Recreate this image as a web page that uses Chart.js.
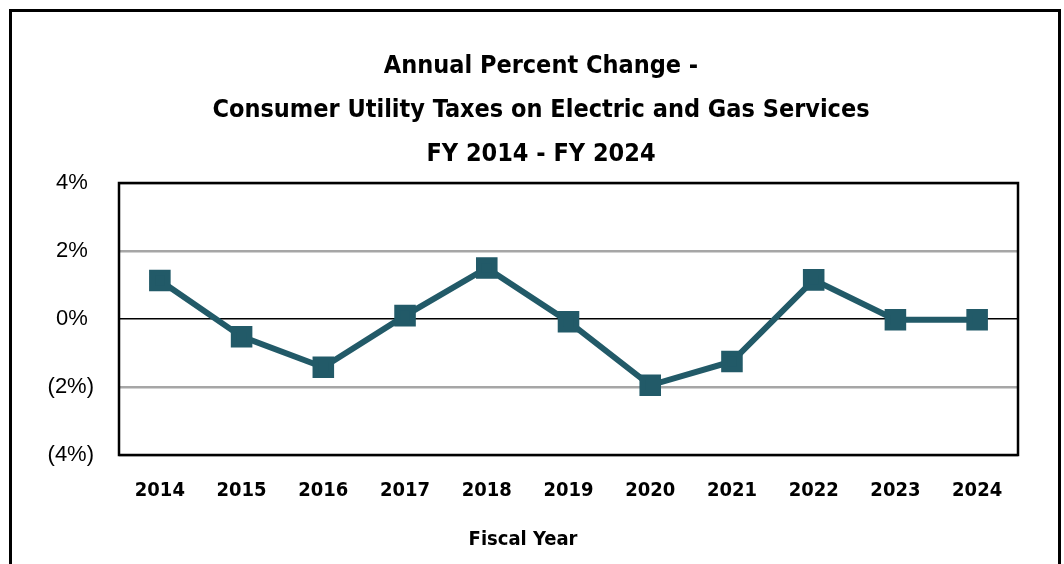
<!DOCTYPE html>
<html>
<head>
<meta charset="utf-8">
<script src="https://cdn.jsdelivr.net/npm/chart.js@4.4.1/dist/chart.umd.min.js"></script>
<style>
  html, body { margin: 0; padding: 0; background: #fff; }
  #wrap { width: 1064px; height: 564px; }
</style>
</head>
<body>
<div id="wrap"><canvas id="chart" width="1064" height="564"></canvas></div>
<script>
const years = ["2014", "2015", "2016", "2017", "2018", "2019", "2020", "2021", "2022", "2023", "2024"]
const pctChange = [1.13, -0.52, -1.42, 0.10, 1.50, -0.08, -1.95, -1.25, 1.15, -0.02, -0.02]
const titleLines = ["Annual Percent Change -", "Consumer Utility Taxes on Electric and Gas Services", "FY 2014 - FY 2024"]
const xTitle = "Fiscal Year"

const lineColor = "#225a68"
const narrow = "'DejaVu Sans Condensed', 'Liberation Sans', sans-serif"

// outer frame, title block, plot box and the x axis caption
// (title and caption sit a bit left of the plot centre in the original)
const frames = {
  id: "frames",
  beforeDraw(chart) {
    const c = chart.ctx
    c.save()
    c.strokeStyle = "#000"
    c.lineWidth = 3
    c.strokeRect(10.5, 10.5, 1049, 600)
    c.fillStyle = "#000"
    c.font = "bold 25px " + narrow
    c.textAlign = "center"
    c.textBaseline = "middle"
    titleLines.forEach((t, i) => c.fillText(t, 541, 66 + i * 44))
    c.restore()
  },
  afterDatasetsDraw(chart) {
    const a = chart.chartArea
    const c = chart.ctx
    c.save()
    c.strokeStyle = "#000"
    c.lineWidth = 2.5
    c.strokeRect(a.left, a.top, a.right - a.left, a.bottom - a.top)
    c.fillStyle = "#000"
    c.font = "bold 20px " + narrow
    c.textAlign = "center"
    c.textBaseline = "middle"
    c.fillText(xTitle, 523, a.bottom + 85)
    c.restore()
  }
}

new Chart(document.getElementById("chart"), {
  type: "line",
  data: {
    labels: years,
    datasets: [{
      data: pctChange,
      borderColor: lineColor,
      backgroundColor: lineColor,
      borderWidth: 6,
      pointStyle: "rect",
      pointRadius: 11,
      pointHoverRadius: 11,
      tension: 0
    }]
  },
  options: {
    responsive: false,
    animation: false,
    layout: { padding: { top: 183, right: 46, bottom: 37, left: 0 } },
    plugins: {
      legend: { display: false },
      tooltip: { enabled: false },
      title: { display: false }
    },
    scales: {
      x: {
        offset: true,
        grid: { display: false, drawTicks: false },
        border: { display: false },
        ticks: {
          color: "#000",
          padding: 24,
          font: { family: narrow, size: 20, weight: "bold" }
        }
      },
      y: {
        min: -4,
        max: 4,
        afterFit(s) { s.width = 119 },
        grid: {
          drawTicks: false,
          color: ctx => ctx.tick.value === 0 ? "#000" : "#a6a6a6",
          lineWidth: ctx => ctx.tick.value === 0 ? 1.5 : 2.5
        },
        border: { display: false },
        ticks: {
          stepSize: 2,
          color: "#000",
          padding: 25,
          font: { family: "'Liberation Sans', sans-serif", size: 22 },
          callback: v => v < 0 ? "(" + Math.abs(v) + "%)" : v + "% "
        }
      }
    }
  },
  plugins: [frames]
})
</script>
</body>
</html>
